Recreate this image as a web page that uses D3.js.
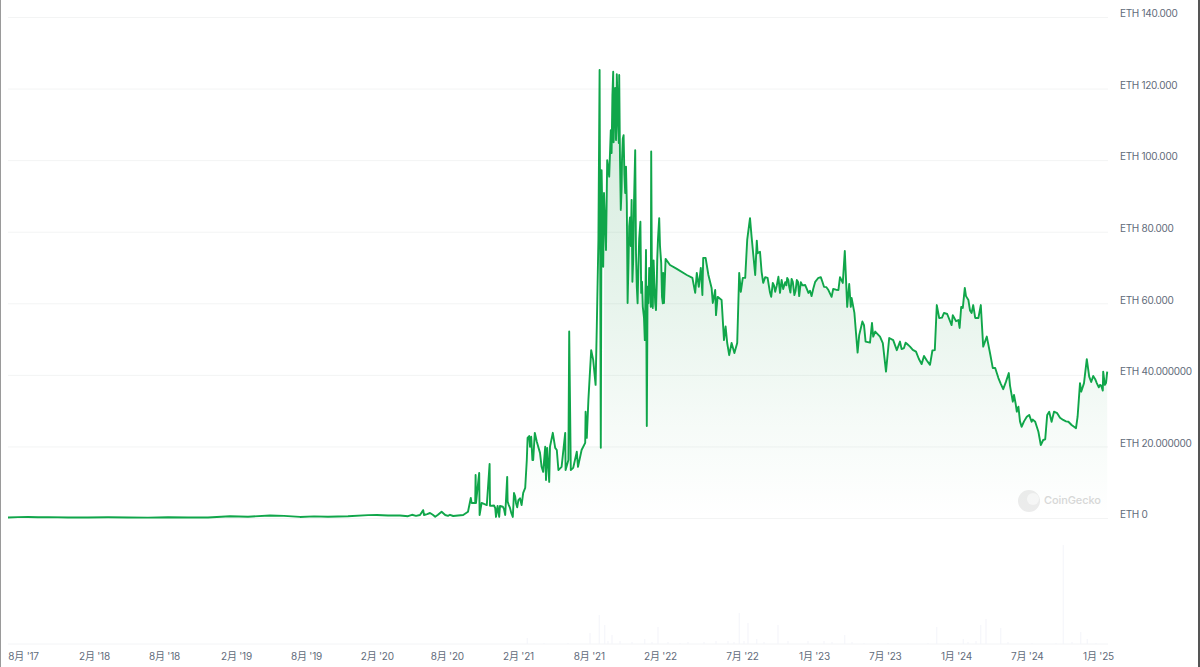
<!DOCTYPE html>
<html><head><meta charset="utf-8">
<script src="https://cdn.jsdelivr.net/npm/d3@7"></script>
<style>
html,body{margin:0;padding:0;background:#fff;overflow:hidden}
svg{display:block}
text{font-family:Inter,"Noto Sans CJK SC","Noto Sans",sans-serif}
</style></head><body><svg id="c" width="1200" height="667"></svg>
<script>
// days since the first sample; values in millions of ETH-denominated units
const priceDays=[0,25,50,75,100,150,200,250,300,350,400,450,500,555,600,655,690,730,765,800,850,900,922,950,980,1030,1038,1040,1055,1068,1084,1093,1113,1138,1150,1157,1159,1168,1169,1170,1178,1179,1184,1197,1204,1205,1218,1220,1224,1228,1230,1237,1243,1245,1248,1249,1255,1262,1265,1270,1276,1284,1288,1293,1297,1299,1303,1305,1308,1311,1313,1317,1322,1330,1334,1338,1343,1345,1348,1353,1355,1362,1368,1372,1376,1384,1393,1394,1401,1403,1407,1413,1422,1425,1434,1443,1444,1447,1451,1458,1463,1469,1472,1476,1479,1482,1484,1488,1490,1495,1498,1503,1507,1513,1515,1518,1520,1523,1527,1528,1532,1535,1539,1543,1545,1549,1553,1559,1563,1568,1572,1576,1581,1583,1587,1592,1595,1597,1599,1603,1607,1608,1612,1616,1620,1623,1628,1633,1635,1638,1640,1644,1655,1672,1697,1711,1718,1722,1727,1732,1736,1738,1744,1751,1759,1762,1768,1770,1774,1784,1790,1794,1798,1803,1809,1816,1823,1828,1832,1837,1843,1848,1855,1859,1868,1872,1874,1880,1884,1888,1893,1899,1908,1912,1918,1926,1930,1934,1943,1948,1953,1959,1966,1972,1978,1982,1993,2001,2009,2018,2032,2040,2051,2059,2063,2076,2080,2087,2092,2098,2103,2107,2109,2116,2120,2124,2128,2136,2140,2144,2155,2160,2163,2168,2180,2187,2195,2203,2213,2222,2230,2234,2248,2255,2270,2284,2290,2305,2311,2317,2322,2328,2340,2348,2359,2362,2376,2379,2383,2387,2392,2401,2409,2413,2418,2426,2432,2438,2447,2455,2462,2468,2476,2488,2495,2502,2512,2515,2522,2526,2534,2547,2553,2559,2568,2576,2582,2588,2593,2598,2603,2609,2615,2623,2638,2651,2659,2670,2674,2680,2683,2690,2697,2703,2713,2722,2730,2737,2738,2742,2745,2748];
const priceValues=[0.15,0.25,0.3,0.2,0.25,0.15,0.15,0.2,0.15,0.1,0.2,0.15,0.15,0.5,0.35,0.7,0.6,0.3,0.45,0.35,0.5,0.8,0.85,0.7,0.7,0.84,2.2,0.84,1.4,0.36,1.76,0.84,0.56,0.84,1.76,5.6,4.2,4.2,12.0,4.2,12.6,0.84,4.2,3.6,15.1,3.4,2.8,0.3,3.4,0.3,3.4,3.2,0.84,5.0,11.5,4.6,2.8,0.3,7,4.2,5,3.6,7,8.4,16.2,22.4,22.9,19.9,22.7,16.2,16.2,23.8,21.3,18.2,14.3,12.9,19.9,10.6,19.6,10.1,19.9,23.8,19.6,19,13.4,14.3,23.8,13.4,16.2,52.1,13.4,14,18.5,14.3,19,21,29.7,22.4,33,46.9,44.2,37.2,53.5,77.7,125.2,19.6,97.2,70.2,90.8,74.9,100,95.4,108.4,124.7,109.3,120.2,105.6,120.2,104.8,123.8,86.1,100,107,90.8,98.2,60.1,81.4,88.9,72.1,102.8,64.6,70.2,82.8,62.9,59,49.7,74.9,25.7,64.6,69.9,59,102.4,58.7,65.7,58.1,72.1,83.8,71.3,61.8,68.5,60.1,72.4,70.7,69.6,67.9,67.1,62.9,68.5,64.6,69.9,62.3,72.7,72.7,67.9,64.3,60.1,63.7,56.7,61.8,60.9,49.7,53.5,48.9,45.5,48.9,46.1,48.9,68.5,63.2,67.1,67.1,77.7,83.8,78.6,67.9,77.5,74,74.4,68.8,65.7,67.3,67.1,61.8,65.7,63.2,67.4,62.9,66.5,65.9,67.1,64.6,66.8,62.3,66.5,62,65.9,65.1,62.9,62,66,67.3,64.6,63.7,61.8,64,63.7,67.3,65.7,74.6,59,65.4,59,61.5,57.3,51.7,46.2,51.1,54.9,53.9,49.3,49,54.5,50.7,52.1,50.7,48.9,40.9,50.3,49.7,46.9,49.3,47.2,48.6,47.9,46.5,43,45.3,42.8,46.8,46.9,59.5,55.9,57.3,57,53.9,56.7,55.3,53.1,59,58.7,64.3,60.9,57.3,59.5,55.9,55.9,59.5,47.9,50.7,46.1,41.9,41.9,39.1,36,38.1,40.5,32.5,34.4,29.7,31.1,25.5,28.3,28.8,26.9,26.9,24.1,20.4,21.8,22,28.8,29.7,26.9,29.7,29.3,27.4,26.9,26,25.1,28.3,37.7,35.3,37.7,44.4,39.5,39.7,37.7,37.2,35.6,40.9,37.2,37.7,40.9];
// extra readings in the densest stretches of the line
const detailDays=[1000,1010,1020,1048,1062,1075,1100,1105,1125,1215,1240,1252,1258,1268,1273,1280,1509,1511,1514,1516,1519,1521,1522,1525,1530,1534,1537,1541,1547,1551,1555,1557,1561,1565,1570,1574,1578,1585,1590,1601,1605,1610,1614,1618,1622,1625,1630,1637,1905,1915,1922,1938,1946,1951,1956,1962,1969,1975,1986,1997,2005,2013,2025,2036,2046,2070,2240,2244,2262,2277,2297,2335,2370,2395,2405,2472,2482,2505,2519,2530,2540,2562,2572,2630,2645,2665,2708,2718,2727,2733];
const detailValues=[0.5,0.9,0.6,1.1,0.9,0.9,0.6,0.9,0.7,3.5,2.5,3.6,1.5,6,3,5.5,102,118,105,112,118,110,124,112,100,92,106,96,88,70,84,76,66,88,74,60,78,66,56,60,68,62,72,60,66,78,76,60,63,65,65,64,65,66.5,63,66,63.5,66,65,64,63.5,64,67,66,64.5,63.8,47.5,49,47,44.5,44,56,55,62,58,40.5,37.5,37,32,27,27,27.5,25.5,28,27,25.5,38,38.8,36.5,37];
const volumeDays=[1298,1455,1478,1492,1510,1592,1625,1828,1850,1872,1925,2092,2322,2388,2432,2445,2482,2638,2682,2698,1340,1400,1500,1530,1560,1610,1650,1680,1700,1740,1770,1800,1815,1840,1890,1950,2000,2040,2060,2110,2140,2200,2300,2350,2400,2420,2500,2560,2620,2660,2720];
const volumeValues=[6,11,29,19,9,5,17,31,21,5,19,9,17,5,19,25,16,99,12,5,1,1,3,3,2,2,2,1,2,2,3,3,2,3,2,3,3,3,2,2,1,1,1,1,2,3,2,1,1,2,1];
const yTickValues=[0,20,40,60,80,100,120,140];
const yTickLabels=["ETH 0","ETH 20.000000","ETH 40.000000","ETH 60.000","ETH 80.000","ETH 100.000","ETH 120.000","ETH 140.000"];
const xTickDays=[37.5,215,390,570,745,922,1097,1275,1452,1630,1835,2015,2192,2370,2547,2725];
const xTickLabels=["8月 '17","2月 '18","8月 '18","2月 '19","8月 '19","2月 '20","8月 '20","2月 '21","8月 '21","2月 '22","7月 '22","1月 '23","7月 '23","1月 '24","7月 '24","1月 '25"];

const svg=d3.select("#c");
const x=d3.scaleLinear().domain([0,2750]).range([8,1108]);
const y=d3.scaleLinear().domain([0,140]).range([518,17]);
const yV=d3.scaleLinear().domain([0,99]).range([644,545]);
const points=priceDays.map((d,i)=>[d,priceValues[i]])
  .concat(detailDays.map((d,i)=>[d,detailValues[i]]))
  .sort((a,b)=>a[0]-b[0]);

const defs=svg.append("defs");
const g=defs.append("linearGradient").attr("id","fill").attr("gradientUnits","userSpaceOnUse")
  .attr("x1",0).attr("x2",0).attr("y1",y(125)).attr("y2",y(0));
g.append("stop").attr("offset",0).attr("stop-color","#0a8f3c").attr("stop-opacity",.18);
g.append("stop").attr("offset",.5).attr("stop-color","#0a8f3c").attr("stop-opacity",.1);
g.append("stop").attr("offset",.78).attr("stop-color","#0a8f3c").attr("stop-opacity",.04);
g.append("stop").attr("offset",1).attr("stop-color","#0a8f3c").attr("stop-opacity",0);
const clip=defs.append("clipPath").attr("id","areaClip");
clip.append("rect").attr("x",x(1490)).attr("y",0).attr("width",600).attr("height",y(0));
clip.append("rect").attr("x",x(0)).attr("y",y(20)).attr("width",1100).attr("height",y(0)-y(20));

// frame edges
svg.append("rect").attr("x",0).attr("y",0).attr("width",1).attr("height",667).attr("fill","#9a9a9a");
svg.append("rect").attr("x",1198).attr("y",0).attr("width",2).attr("height",667).attr("fill","#555");

// y axis + grid
const yAxis=d3.axisRight(y).tickValues(yTickValues).tickFormat((d,i)=>yTickLabels[i]).tickSize(1100).tickPadding(12);
const ya=svg.append("g").attr("transform",`translate(${x(0)},0)`).call(yAxis);
ya.select(".domain").remove();
ya.selectAll("line").attr("stroke","#f3f4f4");
ya.selectAll("text").attr("fill","#5f6b7a").attr("font-size",10).attr("letter-spacing",-0.3).attr("dy","-0.02em");

// watermark
svg.append("circle").attr("cx",1029).attr("cy",501).attr("r",11).attr("fill","#ececec");
svg.append("circle").attr("cx",1033).attr("cy",499).attr("r",6).attr("fill","#f7f7f7");
svg.append("text").attr("x",1044).attr("y",504).attr("font-size",11).attr("font-weight",500).attr("letter-spacing",-0.1).attr("fill","#d8d8d8").text("CoinGecko");

// area + line
svg.append("path").datum(points).attr("clip-path","url(#areaClip)")
  .attr("d",d3.area().x(d=>x(d[0])).y0(y(0)).y1(d=>y(d[1]))).attr("fill","url(#fill)");
svg.append("path").datum(points)
  .attr("d",d3.line().x(d=>x(d[0])).y(d=>y(d[1])))
  .attr("fill","none").attr("stroke","#10a64a").attr("stroke-width",1.9).attr("stroke-linejoin","round");

// volume
svg.append("line").attr("x1",x(0)).attr("x2",x(2750)).attr("y1",yV(0)).attr("y2",yV(0)).attr("stroke","#f3f4f6");
svg.selectAll(".v").data(volumeDays).join("rect").attr("class","v")
  .attr("x",d=>x(d)-.5).attr("width",1).attr("y",(d,i)=>yV(volumeValues[i]))
  .attr("height",(d,i)=>yV(0)-yV(volumeValues[i])).attr("fill","#f3f4f9");

// x axis
const xAxis=d3.axisBottom(x).tickValues(xTickDays).tickFormat((d,i)=>xTickLabels[i]).tickSize(0).tickPadding(9);
const xa=svg.append("g").attr("transform",`translate(0,${yV(0)})`).call(xAxis);
xa.select(".domain").remove();
xa.selectAll("text").attr("fill","#5f6b7a").attr("font-size",10).attr("letter-spacing",-0.2);
</script></body></html>
